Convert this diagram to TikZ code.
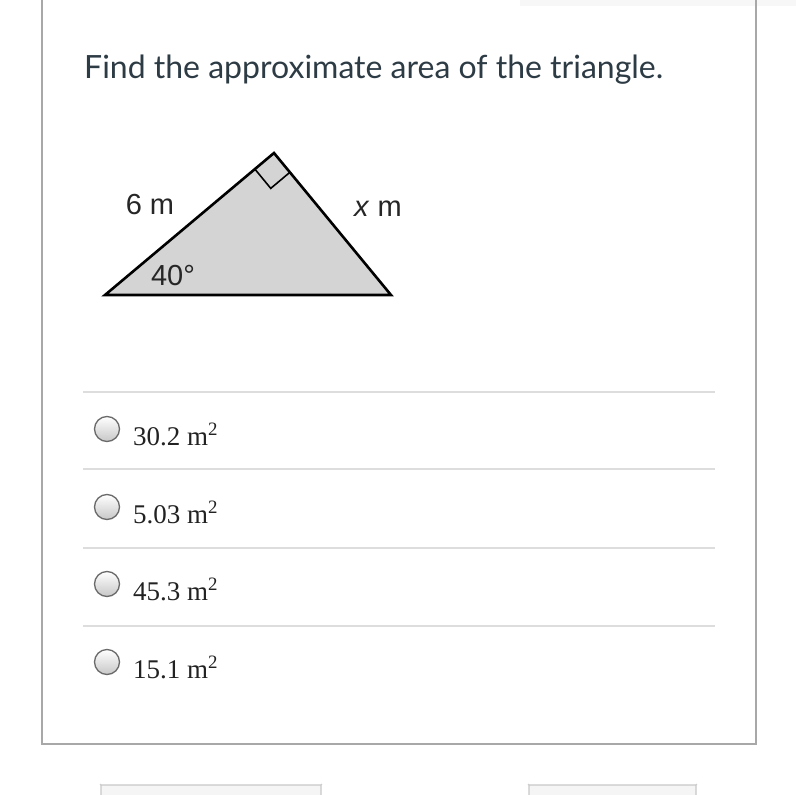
\documentclass[tikz,border=0pt]{standalone}
\usepackage{fontspec}
\usetikzlibrary{calc}
\setmainfont{Liberation Serif}
\newfontfamily\latofont{Lato}
\newfontfamily\arialfont{Liberation Sans}
\definecolor{panelborder}{HTML}{A8A8A8}
\definecolor{sepline}{HTML}{DDDDDD}
\definecolor{titletext}{HTML}{2D3B45}
\definecolor{trifill}{HTML}{D4D4D4}
\definecolor{radioborder}{HTML}{6A6A6A}
\definecolor{btnfill}{HTML}{F5F5F5}
\definecolor{btnborder}{HTML}{C8C8C8}
\definecolor{choicetext}{HTML}{222222}
\tikzset{
  triline/.style={line width=2.6pt, line join=miter},
  marklabel/.style={font=\arialfont\fontsize{29}{32}\selectfont, inner sep=0pt, text=black!85},
  choicelabel/.style={font=\fontsize{27}{30}\selectfont, anchor=base west, inner sep=0pt, text=choicetext},
  radiobtn/.style={circle, draw=radioborder, line width=1.3pt, minimum size=25pt, inner sep=0pt, top color=white, bottom color=black!22},
  sepstyle/.style={draw=sepline, line width=1.2pt},
  btnstyle/.style={draw=btnborder, fill=btnfill, line width=1.2pt, rounded corners=4pt}
}
\begin{document}
\begin{tikzpicture}[x=1pt, y=-1pt]
\useasboundingbox (0,0) rectangle (796,795);
\fill[white] (0,0) rectangle (796,795);
% faint top-right shadow
\fill[black!3] (520,0) rectangle (796,6);
% panel
\draw[panelborder, line width=2pt] (42,-5) -- (42,744) -- (756,744) -- (756,-5);
% title
\node[anchor=base west, inner sep=0pt, text=titletext, font=\latofont\fontsize{32}{36}\selectfont] (title) at (84,78) {Find the approximate area of the triangle.};
% triangle
\coordinate (A) at (105,295);
\coordinate (B) at (274,153);
\coordinate (C) at (391,295);
\fill[trifill] (A) -- (B) -- (C) -- cycle;
\coordinate (M1) at ($(B)!25pt!(A)$);
\coordinate (M2) at ($(B)!25pt!(C)$);
\coordinate (M3) at ($(M1)+(M2)-(B)$);
\draw[line width=1.6pt] (M1) -- (M3) -- (M2);
\draw[triline] (A) -- (B) -- (C) -- cycle;
\node[marklabel] (lab6) at (150,205) {6 m};
\node[marklabel] (labx) at (378,209) {\textit{x} m};
\node[marklabel] (lab40) at (173,276) {40°};
% separators
\draw[sepstyle] (83,392) -- (715,392);
\draw[sepstyle] (83,469) -- (715,469);
\draw[sepstyle] (83,548) -- (715,548);
\draw[sepstyle] (83,626) -- (715,626);
% choices
\node[radiobtn] (r1) at (107,429) {};
\node[choicelabel] (c1) at (133,445) {30.2 m\textsuperscript{2}};
\node[radiobtn] (r2) at (107,507) {};
\node[choicelabel] (c2) at (133,523) {5.03 m\textsuperscript{2}};
\node[radiobtn] (r3) at (107,584) {};
\node[choicelabel] (c3) at (133,600) {45.3 m\textsuperscript{2}};
\node[radiobtn] (r4) at (107,662) {};
\node[choicelabel] (c4) at (133,678) {15.1 m\textsuperscript{2}};
% bottom buttons
\draw[btnstyle] (101,800) -- (101,789) arc (180:270:4) -- (317,785) arc (270:360:4) -- (321,800);
\draw[btnstyle] (529,800) -- (529,789) arc (180:270:4) -- (692,785) arc (270:360:4) -- (696,800);
\end{tikzpicture}
\end{document}
